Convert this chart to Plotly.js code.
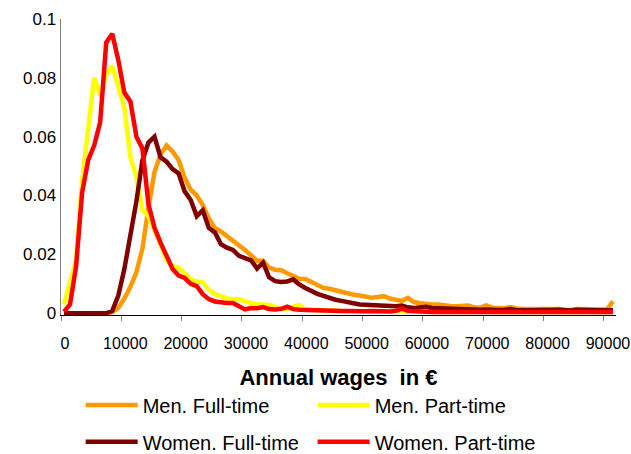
<!DOCTYPE html>
<html>
<head>
<meta charset="utf-8">
<script src="https://cdn.plot.ly/plotly-3.0.1.min.js"></script>
<style>html,body{margin:0;padding:0;background:#fff;}#chart{width:631px;height:454px;}</style>
</head>
<body>
<div id="chart"></div>
<script>
// Wage bins (lower edge of each 1000 € bin)
var wageBins = [];
for (var k = 0; k <= 91; k++) wageBins.push(k * 1000);

var menFullTime = [
0,0,0,0,0,0,0,0,0.0004,0.0018,
0.005,0.009,0.014,0.022,0.036,0.048,0.054,0.057,0.055,0.052,
0.046,0.042,0.040,0.0368,0.0322,0.029,0.0278,0.0262,0.025,0.0233,
0.0215,0.0197,0.0178,0.0178,0.0155,0.0148,0.0146,0.0136,0.0126,0.0117,
0.0116,0.0105,0.0094,0.0086,0.0083,0.0078,0.0072,0.0065,0.0063,0.006,
0.0057,0.0053,0.0055,0.0058,0.005,0.0046,0.0042,0.0052,0.0038,0.0034,
0.0031,0.003,0.003,0.0026,0.0025,0.0024,0.0024,0.0026,0.002,0.0019,
0.0027,0.0019,0.0018,0.0017,0.0021,0.0016,0.0015,0.0015,0.0017,0.0016,
0.0015,0.0014,0.0014,0.0012,0.0011,0.0014,0.0014,0.0013,0.0013,0.0013,
0.0013,0.004];

var menPartTime = [
0.003,0.011,0.018,0.045,0.063,0.080,0.074,0.081,0.084,0.077,
0.070,0.053,0.0465,0.035,0.033,0.028,0.0235,0.018,0.016,0.0155,
0.0135,0.0115,0.0108,0.0105,0.008,0.0065,0.0058,0.005,0.0047,0.0048,
0.004,0.0035,0.003,0.003,0.0028,0.0022,0.0014,0.0016,0.0024,0.0028,
0.0012,0.0012,0.001,0.001,0.0009,0.0009,0.0008,0.0008,0.0008,0.0007,
0.0007,0.0009,0.0007,0.0006,0.0006,0.0006,0.0006,0.0006,0.0005,0.0005,
0.0005,0.0005,0.0005,0.0005,0.0005,0.0005,0.0004,0.0004,0.0004,0.0004,
0.0004,0.0004,0.0004,0.0004,0.0004,0.0004,0.0004,0.0004,0.0004,0.0004,
0.0004,0.0004,0.0004,0.0004,0.0004,0.0004,0.0004,0.0004,0.0004,0.0004,
0.0004,0.0004];

var womenFullTime = [
0,0,0,0,0,0,0,0,0.0008,0.006,
0.015,0.026,0.038,0.052,0.058,0.060,0.053,0.0515,0.049,0.0475,
0.0414,0.0385,0.033,0.035,0.029,0.0275,0.0235,0.0223,0.0215,0.0195,
0.0187,0.018,0.0152,0.0172,0.0122,0.0109,0.0106,0.0108,0.0115,0.0098,
0.0086,0.0075,0.0066,0.0059,0.0051,0.0046,0.0042,0.0036,0.0034,0.003,
0.0029,0.0028,0.0025,0.0023,0.0022,0.0024,0.0026,0.002,0.0018,0.0019,
0.0022,0.0018,0.0017,0.0017,0.0015,0.0015,0.0014,0.0013,0.0012,0.0012,
0.0013,0.0011,0.0011,0.0012,0.0014,0.001,0.0009,0.0009,0.001,0.0011,
0.001,0.0011,0.0012,0.0011,0.0009,0.0012,0.0013,0.0011,0.001,0.001,
0.001,0.001];

var womenPartTime = [
0.0005,0.003,0.016,0.041,0.052,0.057,0.065,0.092,0.095,0.086,
0.075,0.072,0.060,0.056,0.037,0.029,0.024,0.019,0.015,0.0128,
0.012,0.010,0.0092,0.0065,0.0048,0.004,0.0036,0.0035,0.0035,0.0025,
0.0013,0.0018,0.0017,0.0021,0.0014,0.0013,0.0015,0.0022,0.0014,0.0012,
0.0011,0.0011,0.001,0.001,0.0009,0.0009,0.0008,0.0008,0.0007,0.0007,
0.0007,0.0008,0.0007,0.0006,0.0006,0.0008,0.0016,0.0008,0.0006,0.0005,
0.0005,0.0004,0.0004,0.0005,0.0004,0.0004,0.0004,0.0004,0.0005,0.0004,
0.0004,0.0004,0.0004,0.0004,0.0004,0.0004,0.0004,0.0004,0.0004,0.0004,
0.0004,0.0004,0.0004,0.0004,0.0004,0.0004,0.0004,0.0004,0.0004,0.0004,
0.0004,0.0004];

var seriesNames = ["Men. Full-time", "Men. Part-time", "Women. Full-time", "Women. Part-time"];
var seriesColors = ["#FF9900", "#FFFF00", "#800000", "#FF0000"];

var xTickVals = [-500, 9500, 19500, 29500, 39500, 49500, 59500, 69500, 79500, 89500];
var xTickText = ["0","10000","20000","30000","40000","50000","60000","70000","80000","90000"];
var yTickVals = [0, 0.02, 0.04, 0.06, 0.08, 0.1];
var yTickText = ["0","0.02","0.04","0.06","0.08","0.1"];

var allSeries = [menFullTime, menPartTime, womenFullTime, womenPartTime];
var legendIds = ["legend", "legend2", "legend3", "legend4"];
var traces = allSeries.map(function (vals, i) {
  return {
    type: "scatter", mode: "lines",
    x: wageBins, y: vals, name: seriesNames[i],
    legend: legendIds[i],
    line: {color: seriesColors[i], width: 4.5, shape: "linear"},
    hoverinfo: "skip"
  };
});

var FONT = "Liberation Sans, Arial, sans-serif";
function makeLegend(x, y) {
  return {
    orientation: "v", xanchor: "left", yanchor: "middle",
    x: x, y: y, font: {family: FONT, size: 20, color: "#000"},
    bgcolor: "rgba(0,0,0,0)", borderwidth: 0, itemwidth: 52,
    itemclick: false, itemdoubleclick: false
  };
}
var col1 = 0.0354, col2 = 0.4534, row1 = -0.304, row2 = -0.428;

var layout = {
  width: 631, height: 454,
  margin: {l: 61, r: 15, t: 19, b: 139, autoexpand: false},
  paper_bgcolor: "#fff", plot_bgcolor: "#fff",
  showlegend: true,
  legend: makeLegend(col1, row1),
  legend2: makeLegend(col2, row1),
  legend3: makeLegend(col1, row2),
  legend4: makeLegend(col2, row2),
  xaxis: {
    range: [-500, 91500], showgrid: false, zeroline: false,
    showline: true, linecolor: "#000", linewidth: 1,
    tickmode: "array", tickvals: xTickVals, ticktext: xTickText,
    ticks: "outside", ticklen: 5, tickcolor: "#808080", tickwidth: 1,
    ticklabelshift: 4, ticklabelstandoff: 9,
    tickfont: {family: FONT, size: 16, color: "#000"},
    title: {text: "<b>Annual wages&nbsp; in €</b>", font: {family: FONT, size: 22, color: "#000"}, standoff: 18},
    automargin: false, fixedrange: true
  },
  yaxis: {
    range: [-0.0006, 0.1], showgrid: false, zeroline: false,
    showline: true, linecolor: "#808080", linewidth: 1.5,
    tickmode: "array", tickvals: yTickVals, ticktext: yTickText,
    ticks: "", tickfont: {family: FONT, size: 17, color: "#000"},
    automargin: false, fixedrange: true
  }
};

Plotly.newPlot("chart", traces, layout, {staticPlot: true, displayModeBar: false});
</script>
</body>
</html>
